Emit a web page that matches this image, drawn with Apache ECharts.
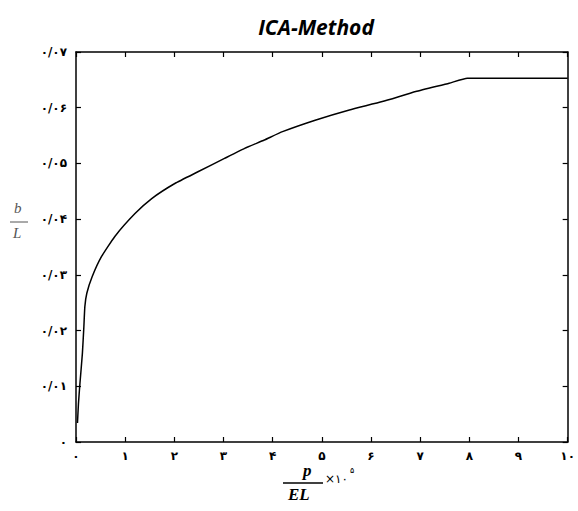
<!DOCTYPE html>
<html>
<head>
<meta charset="utf-8">
<script src="https://cdn.jsdelivr.net/npm/echarts@6/dist/echarts.min.js"></script>
<style>
  html, body { margin: 0; padding: 0; background: #fff; }
  #chart { width: 578px; height: 511px; }
</style>
</head>
<body>
<div id="chart"></div>
<script>
  // curve: x is p/EL (x10^-5), y is b/L
  var xs = [0.03, 0.05, 0.08, 0.13, 0.16, 0.18, 0.22, 0.33, 0.52, 0.79, 1.2, 1.54, 2.01, 2.48, 3.02, 3.43, 3.83, 4.2, 4.88, 5.56, 6.23, 6.91, 7.59, 7.96, 10];
  var ys = [0.0034, 0.0069, 0.0105, 0.0159, 0.0207, 0.0243, 0.0267, 0.0297, 0.0333, 0.0369, 0.041, 0.0437, 0.0464, 0.0485, 0.0509, 0.0527, 0.0542, 0.0557, 0.0578, 0.0596, 0.0611, 0.0629, 0.0644, 0.0653, 0.0653];

  var xTickLabels = ['۰', '۱', '۲', '۳', '۴', '۵', '۶', '۷', '۸', '۹', '۱۰'];
  var yTickLabels = ['۰', '۰/۰۱', '۰/۰۲', '۰/۰۳', '۰/۰۴', '۰/۰۵', '۰/۰۶', '۰/۰۷'];

  var ink = '#000';
  var tickFont = 'DejaVu Sans';

  var chart = echarts.init(document.getElementById('chart'), null, { renderer: 'svg' });

  var boxLine = { show: true, onZero: false, lineStyle: { color: ink, width: 1.5 } };
  var inTick = { show: true, inside: true, length: 5, lineStyle: { color: ink, width: 1.2 } };

  chart.setOption({
    animation: false,
    title: {
      text: 'ICA-Method',
      left: 311,
      top: 11,
      textAlign: 'center',
      textStyle: { fontFamily: 'Open Sans', fontStyle: 'italic', fontWeight: 'bold', fontSize: 21, color: ink }
    },
    grid: { left: 76, right: 9, top: 52, bottom: 69 },
    xAxis: [
      {
        type: 'value', min: 0, max: 10, interval: 1, position: 'bottom',
        axisLine: boxLine, axisTick: inTick, splitLine: { show: false },
        axisLabel: {
          color: ink, fontFamily: tickFont, fontSize: 12, fontWeight: 'bold', margin: 8,
          formatter: function(v) { return xTickLabels[Math.round(v)]; }
        }
      },
      {
        type: 'value', min: 0, max: 10, interval: 1, position: 'top',
        axisLine: boxLine, axisTick: inTick, splitLine: { show: false },
        axisLabel: { show: false }
      }
    ],
    yAxis: [
      {
        type: 'value', min: 0, max: 0.07, interval: 0.01, position: 'left',
        axisLine: boxLine, axisTick: inTick, splitLine: { show: false },
        axisLabel: {
          color: ink, fontFamily: tickFont, fontSize: 12, fontWeight: 'bold', margin: 9,
          formatter: function(v) { return yTickLabels[Math.round(v * 100)]; }
        }
      },
      {
        type: 'value', min: 0, max: 0.07, interval: 0.01, position: 'right',
        axisLine: boxLine, axisTick: inTick, splitLine: { show: false },
        axisLabel: { show: false }
      }
    ],
    graphic: [
      // y axis name: b / L
      { type: 'text', left: 14, top: 200, style: { text: 'b', font: 'italic 15px "Liberation Serif"', fill: '#555' } },
      { type: 'line', shape: { x1: 10, y1: 222, x2: 28, y2: 222 }, style: { stroke: '#555', lineWidth: 1 } },
      { type: 'text', left: 13, top: 225, style: { text: 'L', font: 'italic 15px "Liberation Serif"', fill: '#555' } },
      // x axis name: p / EL x10^5
      { type: 'text', left: 303, top: 462, style: { text: 'p', font: 'italic bold 17px "Liberation Serif"', fill: ink } },
      { type: 'line', shape: { x1: 283, y1: 483, x2: 323, y2: 483 }, style: { stroke: ink, lineWidth: 1.5 } },
      { type: 'text', left: 288, top: 486, style: { text: 'EL', font: 'italic bold 17px "Liberation Serif"', fill: ink } },
      { type: 'text', left: 325, top: 473, style: { text: '×۱۰', font: '12px "DejaVu Sans"', fill: ink } },
      { type: 'text', left: 350, top: 466, style: { text: '۵', font: '8px "DejaVu Sans"', fill: ink } }
    ],
    series: [{
      type: 'line',
      data: xs.map(function(x, i) { return [x, ys[i]]; }),
      showSymbol: false,
      smooth: 0.15,
      lineStyle: { color: ink, width: 1.5 }
    }]
  });
</script>
</body>
</html>
